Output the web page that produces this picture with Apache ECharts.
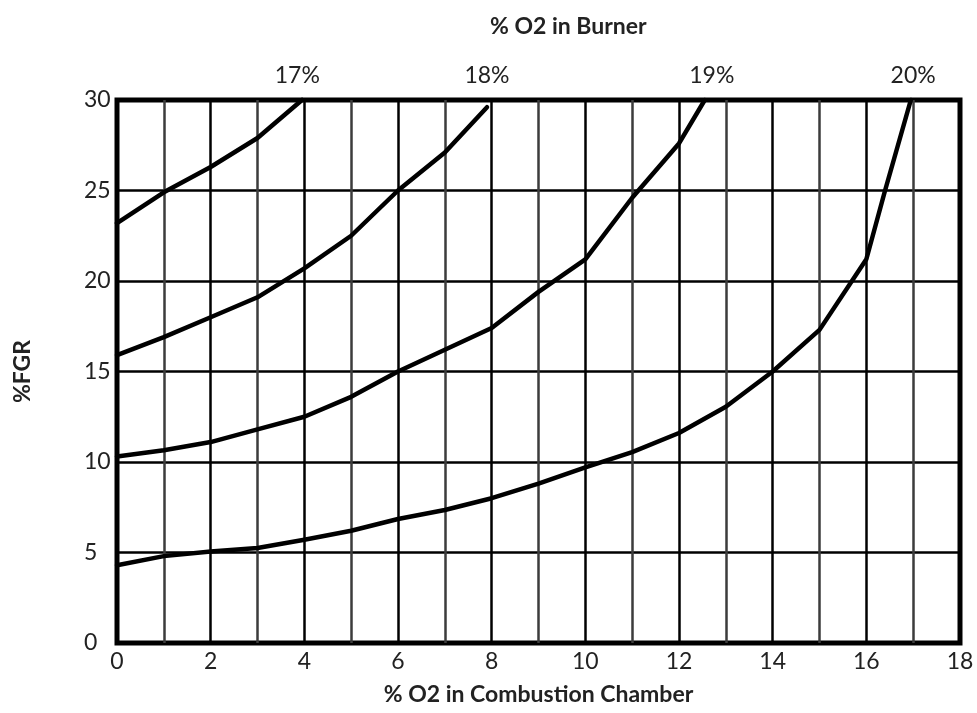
<!DOCTYPE html>
<html><head><meta charset="utf-8">
<script src="https://cdn.jsdelivr.net/npm/echarts@6/dist/echarts.min.js"></script>
<style>html,body{margin:0;padding:0;background:#fff}#c{width:977px;height:713px}</style>
</head><body><div id="c"></div>
<script>
// % O2 in combustion chamber (x) vs %FGR (y), one curve per % O2 in burner
const curve17 = [[0,23.2],[1,24.9],[2,26.3],[3,27.9],[3.95,30]];
const curve18 = [[0,15.9],[1,16.9],[2,18.0],[3,19.1],[4,20.7],[5,22.5],[6,25.0],[7,27.1],[7.9,29.6]];
const curve19 = [[0,10.3],[1,10.65],[2,11.1],[3,11.8],[4,12.5],[5,13.6],[6,15.0],[7,16.2],[8,17.4],[9,19.4],[10,21.2],[11,24.6],[12,27.6],[12.55,30]];
const curve20 = [[0,4.3],[1,4.8],[2,5.05],[3,5.25],[4,5.7],[5,6.2],[6,6.85],[7,7.35],[8,8.0],[9,8.8],[10,9.7],[11,10.55],[12,11.6],[13,13.05],[14,15.0],[15,17.3],[16,21.2],[16.4,25],[16.95,30]];
const burnerLabels = ['17%','18%','19%','20%'];
const burnerLabelPos = [3.85, 7.9, 12.7, 17.0];
const xTitle = '% O2 in Combustion Chamber';
const yTitle = '%FGR';
const topTitle = '% O2 in Burner';

const FONT = 'Lato, "DejaVu Sans", sans-serif';
const chart = echarts.init(document.getElementById('c'), null, {renderer: 'canvas'});
const lineSeries = (name, data) => ({
  name, type: 'line', data, xAxisIndex: 0, yAxisIndex: 0,
  showSymbol: false, smooth: false, clip: false,
  lineStyle: {color: '#000', width: 4.5, cap: 'round', join: 'round'},
  emphasis: {disabled: true}, z: 5
});
chart.setOption({
  animation: false,
  backgroundColor: '#fff',
  grid: {left: 117, right: 17, top: 100, bottom: 70, show: true, borderColor: '#000', borderWidth: 5},
  graphic: [{
    type: 'text', left: 490, top: 15,
    style: {text: topTitle, font: 'bold 23px ' + FONT, fill: '#222', textAlign: 'center'}
  }],
  xAxis: [{
    type: 'value', min: 0, max: 18, interval: 2, position: 'bottom',
    name: xTitle, nameLocation: 'middle', nameGap: 40,
    nameTextStyle: {fontFamily: FONT, fontWeight: 'bold', fontSize: 23, color: '#222'},
    axisLine: {show: false}, axisTick: {show: false},
    axisLabel: {fontFamily: FONT, fontSize: 23, color: '#222', margin: 7},
    splitLine: {show: true, showMinLine: false, showMaxLine: false, lineStyle: {color: '#000', width: 2.5}},
    minorTick: {show: false, splitNumber: 2},
    minorSplitLine: {show: true, lineStyle: {color: '#3c3c3c', width: 2.5}}
  }, {
    type: 'value', min: 0, max: 18, position: 'top',
    axisLine: {show: false}, axisTick: {show: false}, splitLine: {show: false},
    axisLabel: {
      show: true, customValues: burnerLabelPos, fontFamily: FONT, fontSize: 23, color: '#222', margin: 13,
      formatter: function (v) {
        let best = 0;
        for (let i = 1; i < burnerLabelPos.length; i++) {
          if (Math.abs(burnerLabelPos[i] - v) < Math.abs(burnerLabelPos[best] - v)) best = i;
        }
        return burnerLabels[best];
      }
    }
  }],
  yAxis: [{
    type: 'value', min: 0, max: 30, interval: 5,
    name: yTitle, nameLocation: 'middle', nameGap: 83, nameRotate: 90,
    nameTextStyle: {fontFamily: FONT, fontWeight: 'bold', fontSize: 23, color: '#222'},
    axisLine: {show: false}, axisTick: {show: false},
    axisLabel: {fontFamily: FONT, fontSize: 23, color: '#222', margin: 33, align: 'left'},
    splitLine: {show: true, showMinLine: false, showMaxLine: false, lineStyle: {color: '#000', width: 2.5}}
  }],
  series: [
    lineSeries('17%', curve17),
    lineSeries('18%', curve18),
    lineSeries('19%', curve19),
    lineSeries('20%', curve20)
  ]
});
</script></body></html>
